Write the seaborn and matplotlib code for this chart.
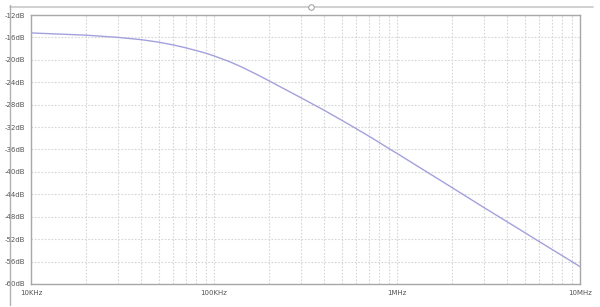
import matplotlib
matplotlib.use("Agg")
import matplotlib.pyplot as plt
import matplotlib.lines as mlines
import pandas as pd
import seaborn as sns

# Data (frequency in Hz, gain in dB)
freq_hz = [10e3, 20e3, 30e3, 40e3, 50e3, 60e3, 70e3, 80e3, 90e3, 100e3, 120e3, 140e3, 170e3,
           200e3, 300e3, 400e3, 500e3, 600e3, 700e3, 800e3, 900e3, 1e6,
           2e6, 3e6, 4e6, 5e6, 6e6, 8e6, 10e6]
gain_db = [-15.2, -15.6, -16.0, -16.4, -16.85, -17.35, -17.85, -18.35, -18.8, -19.3, -20.25, -21.2, -22.55,
           -23.75, -26.8, -29.0, -30.8, -32.3, -33.6, -34.75, -35.8, -36.7,
           -42.8, -46.4, -48.9, -50.85, -52.45, -54.95, -56.9]

y_ticks = [-12, -16, -20, -24, -28, -32, -36, -40, -44, -48, -52, -56, -60]
y_tick_labels = ["-12dB", "-16dB", "-20dB", "-24dB", "-28dB", "-32dB", "-36dB",
                 "-40dB", "-44dB", "-48dB", "-52dB", "-56dB", "-60dB"]
x_ticks = [10e3, 100e3, 1e6, 10e6]
x_tick_labels = ["10KHz", "100KHz", "1MHz", "10MHz"]

df = pd.DataFrame({"freq": freq_hz, "gain": gain_db})

sns.set_style("white")
fig = plt.figure(figsize=(6.0, 3.07), dpi=100)
ax = fig.add_axes([31/600, 1-284/307, (580-31)/600, (284-15)/307])

sns.lineplot(data=df, x="freq", y="gain", ax=ax, color="#a3a1dc", linewidth=1.0)
ax.set_xscale("log")
ax.set_xlim(10e3, 10e6)
ax.set_ylim(-60, -12)

# grid
minor = [m * d for d in [1e4, 1e5, 1e6] for m in range(2, 10)]
ax.set_xticks(x_ticks)
ax.set_xticks(minor, minor=True)
ax.set_xticklabels(x_tick_labels)
ax.set_xticklabels([], minor=True)
ax.set_yticks(y_ticks)
ax.set_yticklabels(y_tick_labels)
ax.grid(True, which="both", axis="x", color="#d6d6d6", linestyle=(0, (1.5, 1.5)), linewidth=0.8)
ax.grid(True, which="major", axis="y", color="#d6d6d6", linestyle=(0, (1.5, 1.5)), linewidth=0.8)

ax.tick_params(axis="both", which="both", direction="out", length=2.5, width=0.6,
               color="#909090", labelsize=5, labelcolor="#555555", pad=1.5)
ax.tick_params(axis="x", which="minor", length=2)
for s in ax.spines.values():
    s.set_color("#a8a8a8")
    s.set_linewidth(1.0)
ax.set_xlabel("")
ax.set_ylabel("")

# decorative window elements (top slider bar and left vertical bar)
fig.add_artist(mlines.Line2D([10/600, 593/600], [1-7/307, 1-7/307], color="#c8c8c8", linewidth=1.2))
fig.add_artist(mlines.Line2D([311/600], [1-7/307], marker="o", markersize=4,
                             markerfacecolor="white", markeredgecolor="#999999", markeredgewidth=0.7))
fig.add_artist(mlines.Line2D([10/600, 10/600], [1-5/307, 1-305/307], color="#b0b0b0", linewidth=1.0))

fig.savefig("out.png", dpi=100)
